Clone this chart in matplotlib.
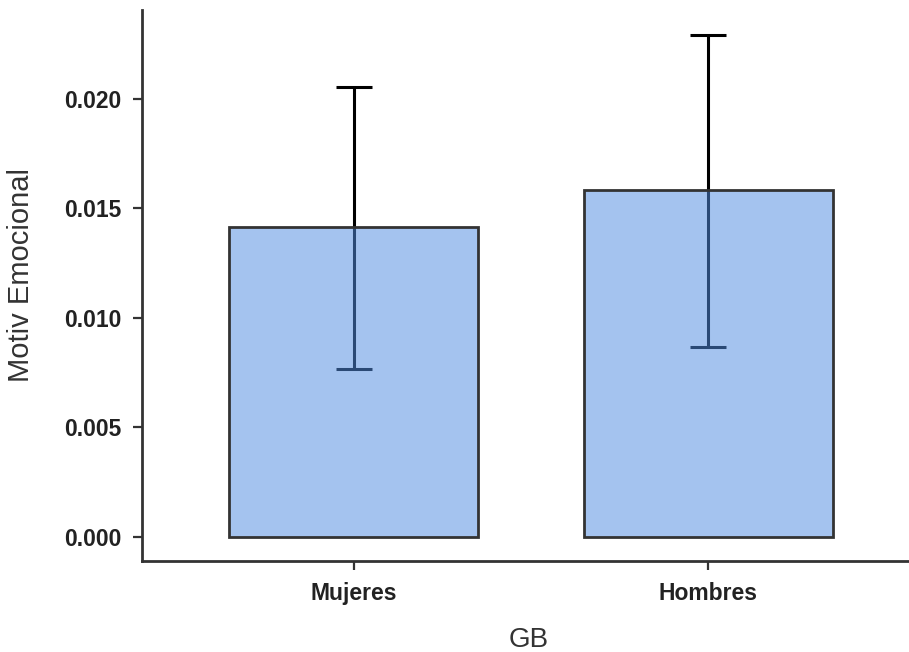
import matplotlib
matplotlib.use("Agg")
import matplotlib.pyplot as plt
import numpy as np

categories = ["Mujeres", "Hombres"]
means = [0.01416, 0.01584]
err_low = [0.00767, 0.00868]
err_high = [0.02055, 0.02292]
yticks = [0.000, 0.005, 0.010, 0.015, 0.020]

plt.rcParams['font.family'] = ['Liberation Sans', 'DejaVu Sans']

fig = plt.figure(figsize=(9.09, 6.52), dpi=100)
ax = fig.add_axes([142/909, (652-561)/652, (909-142)/909, (561-10)/652])

x = np.arange(len(categories))
means_a = np.array(means)
yerr = np.vstack([means_a - np.array(err_low), np.array(err_high) - means_a])

ax.errorbar(x, means_a, yerr=yerr, fmt='none', ecolor='black', elinewidth=2.2,
            capsize=13, capthick=2.2, zorder=1)
ax.bar(x, means_a, width=0.7, color='#528de2', alpha=0.52, edgecolor='none', zorder=2)
ax.bar(x, means_a, width=0.7, facecolor='none', edgecolor='#333333', linewidth=2.0, zorder=3)

ax.set_xlim(-0.596, 1.565)
ax.set_ylim(-0.001096, 0.02406)
ax.set_xticks(x)
ax.set_xticklabels(categories)
ax.set_yticks(yticks)
ax.set_yticklabels([f"{v:.3f}" for v in yticks])

for s in ['top', 'right']:
    ax.spines[s].set_visible(False)
for s in ['left', 'bottom']:
    ax.spines[s].set_linewidth(2.0)
    ax.spines[s].set_color('#333333')

ax.tick_params(axis='both', length=6.5, width=1.6, color='#333333', labelsize=16.5,
               labelcolor='#222222', pad=8.5)
for lab in ax.get_xticklabels() + ax.get_yticklabels():
    lab.set_fontweight('bold')

ax.set_xlabel("GB", fontsize=20, color='#333333')
ax.set_ylabel("Motiv Emocional", fontsize=21, color='#333333')
ax.xaxis.set_label_coords(0.5046, -0.1198)
ax.yaxis.set_label_coords(-0.1395, 0.519)

fig.savefig("out.png", dpi=100)
